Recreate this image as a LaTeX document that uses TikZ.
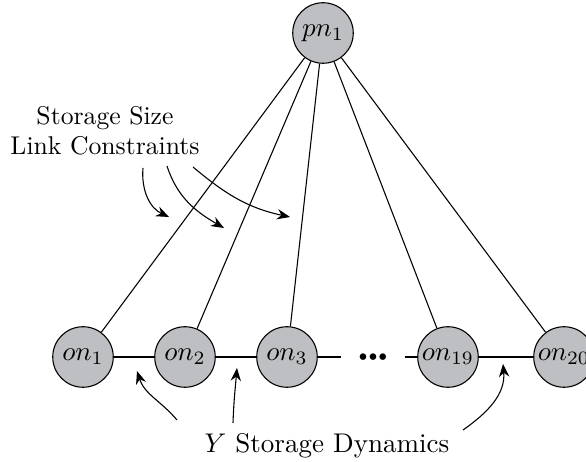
\documentclass[tikz,border=0pt]{standalone}
\usepackage{amsmath}
\usepackage{amssymb}
\usepackage{tikz}
\usetikzlibrary{arrows.meta}

\definecolor{nodegray}{RGB}{190,191,194}

\begin{document}
\begin{tikzpicture}[x=0.37pt,y=0.37pt,
        nd/.style={circle,draw,fill=nodegray,minimum size=22.4pt,inner sep=0pt},
        ar/.style={-{Stealth[length=4.8pt,width=3.8pt]}}]
        \useasboundingbox (0,0) rectangle (586,462);
        \node[nd] (pn1) at (323,429) {$pn_1$};
        \node[nd] (on1) at (83,105) {$on_1$};
        \node[nd] (on2) at (185,105) {$on_2$};
        \node[nd] (on3) at (287,105) {$on_3$};
        \node[minimum width=23pt,inner sep=0pt] (gap) at (373,105) {${\scriptscriptstyle\bullet\bullet\bullet}$};
        \node[nd] (on19) at (448,105) {$on_{19}$};
        \node[nd] (on20) at (564,105) {$on_{20}$};
        \foreach \o in {on1,on2,on3,on19,on20}
            \draw (pn1)--(\o);
        \draw (on1)--(on2);
        \draw (on2)--(on3);
        \draw (on3)--(gap);
        \draw (gap)--(on19);
        \draw (on19)--(on20);
        \node[align=center,font=\fontsize{9.5pt}{11.2pt}\selectfont] (lc) at (105,331) {Storage Size\\Link Constraints};
        \node (sd) at (327,16) {$Y$ Storage Dynamics};
        \coordinate (s1) at (143,294);
        \coordinate (s2) at (167,296);
        \coordinate (s3) at (193,295);
        \coordinate (t1) at (169,245);
        \coordinate (t2) at (224,234);
        \coordinate (t3) at (290,245);
        \draw[ar] (s1) to[out=-95,in=155] (t1);
        \draw[ar] (s2) to[out=-72,in=150] (t2);
        \draw[ar] (s3) to[out=-40,in=168] (t3);
        \coordinate (d1) at (177,42);
        \coordinate (d2) at (233,39);
        \coordinate (d3) at (463,32);
        \coordinate (u1) at (137,91);
        \coordinate (u2) at (237,94);
        \coordinate (u3) at (503,98);
        \draw[ar] (d1) to[out=130,in=-72] (u1);
        \draw[ar] (d2) to[out=88,in=-95] (u2);
        \draw[ar] (d3) to[out=35,in=-85] (u3);
    \end{tikzpicture}
\end{document}
